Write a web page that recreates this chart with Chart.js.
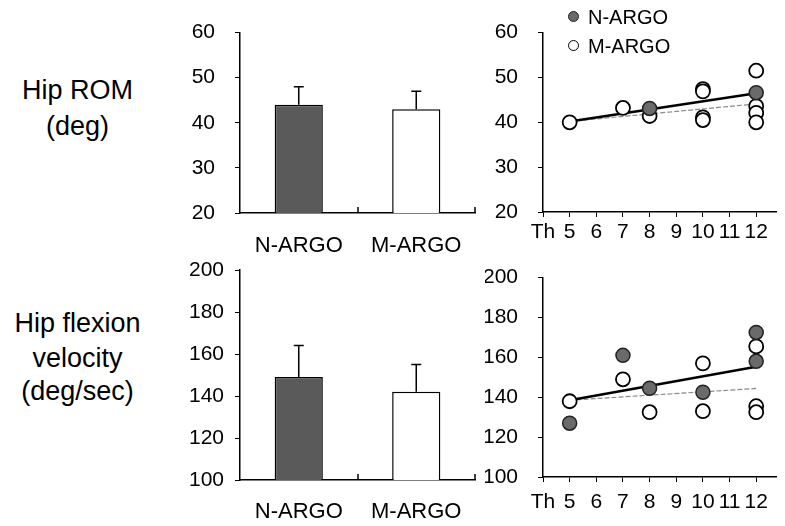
<!DOCTYPE html>
<html><head><meta charset="utf-8">
<script src="https://cdn.jsdelivr.net/npm/chart.js@4.4.1/dist/chart.umd.min.js"></script>
<style>
html,body{margin:0;padding:0;background:#fff;}
#wrap{position:relative;width:785px;height:526px;overflow:hidden;font-family:"Liberation Sans",Arial,sans-serif;color:#000;}
canvas{position:absolute;}
.lab{position:absolute;left:0;width:155px;font-size:27px;line-height:27px;text-align:center;white-space:nowrap;}
.leg{position:absolute;font-size:20px;line-height:20px;white-space:nowrap;}
.dot{position:absolute;width:9px;height:9px;border-radius:50%;}
</style></head><body>
<div id="wrap">
  <div class="lab" style="top:77px">Hip ROM</div>
  <div class="lab" style="top:113px">(deg)</div>
  <div class="lab" style="top:310px">Hip flexion</div>
  <div class="lab" style="top:345px">velocity</div>
  <div class="lab" style="top:378px">(deg/sec)</div>
  <canvas id="c1" width="315" height="260" style="left:170px;top:0px"></canvas>
  <canvas id="c2" width="315" height="281" style="left:170px;top:245px"></canvas>
  <canvas id="c3" width="300" height="260" style="left:485px;top:0px"></canvas>
  <canvas id="c4" width="300" height="281" style="left:485px;top:245px"></canvas>
  <div id="legend"></div>
</div>
<script>
// ---- data ----
const groups = ['N-ARGO', 'M-ARGO'];
const romMean = [44, 43];
const romErr = [4, 4];
const velMean = [149, 142];
const velErr = [15, 13];

const segTicks = [4, 5, 6, 7, 8, 9, 10, 11, 12];
const segLabels = ['Th', '5', '6', '7', '8', '9', '10', '11', '12'];

const romNx = [8, 12];
const romNy = [43.1, 46.6];
const romMx = [5, 7, 8, 10, 10, 10, 10, 12, 12, 12, 12];
const romMy = [40, 43.2, 41.4, 47.4, 46.9, 41.1, 40.5, 51.5, 43.6, 42.1, 40];
const romFitNx = [5, 12];
const romFitNy = [40.2, 46.5];
const romFitMx = [5, 12];
const romFitMy = [40.2, 44.1];

const velNx = [5, 7, 8, 10, 12, 12];
const velNy = [127, 161, 144.5, 142.5, 172.5, 158];
const velMx = [5, 7, 8, 10, 10, 12, 12, 12];
const velMy = [138, 149, 132.5, 157, 133, 165.5, 135.5, 132.5];
const velFitNx = [5, 12];
const velFitNy = [138.5, 155.3];
const velFitMx = [5, 12];
const velFitMy = [138.5, 144.4];

// ---- styles ----
const FAM = '"Liberation Sans", Arial, sans-serif';
const tickFont = {family: FAM, size: 21};
const catFont = {family: FAM, size: 22};
const INK = '#000';
const N_FILL = '#5a5a5a';
const P_FILL = '#6a6a6a';

const pts = (xs, ys) => xs.map((x, i) => ({x: x, y: ys[i]}));

const errorBars = {
  id: 'errorBars',
  afterDatasetsDraw(chart, args, opts) {
    const errs = opts.errors;
    if (!errs) return;
    const meta = chart.getDatasetMeta(0);
    const ys = chart.scales.y;
    const ctx = chart.ctx;
    const vals = chart.data.datasets[0].data;
    ctx.save();
    ctx.strokeStyle = INK;
    ctx.lineWidth = 1.5;
    meta.data.forEach((bar, i) => {
      const top = ys.getPixelForValue(vals[i] + errs[i]);
      ctx.beginPath();
      ctx.moveTo(bar.x, bar.y);
      ctx.lineTo(bar.x, top);
      ctx.moveTo(bar.x - 5, top);
      ctx.lineTo(bar.x + 5, top);
      ctx.stroke();
    });
    ctx.restore();
  }
};

const innerTicks = {
  id: 'innerTicks',
  afterDraw(chart) {
    const xs = chart.scales.x;
    const ctx = chart.ctx;
    const b = chart.chartArea.bottom;
    const n = chart.data.labels.length;
    ctx.save();
    ctx.strokeStyle = INK;
    ctx.lineWidth = 1.5;
    ctx.beginPath();
    for (let i = 1; i <= n; i++) {
      const px = Math.round(xs.getPixelForValue(i - 0.5));
      ctx.moveTo(px, b);
      ctx.lineTo(px, b - 6);
    }
    ctx.stroke();
    ctx.restore();
  }
};

function yAxis(min, max, step, w, pad) {
  return {
    min: min, max: max,
    ticks: {stepSize: step, color: INK, font: tickFont, padding: pad},
    grid: {drawOnChartArea: false, drawTicks: true, tickLength: 5, color: INK, lineWidth: 1},
    border: {display: true, color: INK, width: 1.5},
    afterFit: s => { s.width = w; }
  };
}

function barChart(id, vals, errs, min, max, step, padT, xH, xPad, yPad) {
  new Chart(document.getElementById(id), {
    type: 'bar',
    data: {
      labels: groups,
      datasets: [{
        data: vals,
        backgroundColor: [N_FILL, '#ffffff'],
        borderColor: INK,
        borderWidth: 1.5,
        barPercentage: 0.41,
        categoryPercentage: 1
      }]
    },
    options: {
      responsive: false, animation: false,
      layout: {padding: {left: 0, right: 10, top: padT, bottom: 0}},
      plugins: {legend: {display: false}, tooltip: {enabled: false}, errorBars: {errors: errs}},
      scales: {
        x: {
          grid: {display: false},
          border: {display: true, color: INK, width: 1.5},
          ticks: {color: INK, font: catFont, padding: xPad},
          afterFit: s => { s.height = xH; }
        },
        y: yAxis(min, max, step, 70, yPad)
      }
    },
    plugins: [errorBars, innerTicks]
  });
}

function scatterChart(id, nx, ny, mx, my, fnx, fny, fmx, fmy, min, max, step, padT, xH, xPad) {
  new Chart(document.getElementById(id), {
    type: 'scatter',
    data: {
      datasets: [
        {label: 'N-ARGO', data: pts(nx, ny), backgroundColor: P_FILL, borderColor: '#222', borderWidth: 1.5, pointRadius: 7},
        {label: 'M-ARGO', data: pts(mx, my), backgroundColor: '#fff', borderColor: INK, borderWidth: 1.8, pointRadius: 7},
        {label: 'N-ARGO fit', data: pts(fnx, fny), showLine: true, borderColor: INK, borderWidth: 2.5, pointRadius: 0},
        {label: 'M-ARGO fit', data: pts(fmx, fmy), showLine: true, borderColor: '#8a8a8a', borderWidth: 1.2, borderDash: [5, 2], pointRadius: 0}
      ]
    },
    options: {
      responsive: false, animation: false,
      layout: {padding: {left: 0, right: 2, top: padT, bottom: 0}},
      plugins: {legend: {display: false}, tooltip: {enabled: false}},
      scales: {
        x: {
          type: 'linear', min: 4, max: 12.75,
          afterBuildTicks: s => { s.ticks = segTicks.map(v => ({value: v})); },
          ticks: {color: INK, font: tickFont, padding: xPad, autoSkip: false, maxRotation: 0,
                  callback: v => segLabels[segTicks.indexOf(v)]},
          grid: {drawOnChartArea: false, drawTicks: true, tickLength: 5, color: INK, lineWidth: 1},
          border: {display: true, color: INK, width: 1.5},
          afterFit: s => { s.height = xH; }
        },
        y: yAxis(min, max, step, 58, 20)
      }
    }
  });
}

barChart('c1', romMean, romErr, 20, 60, 10, 18, 47, 12, 20);
barChart('c2', velMean, velErr, 100, 200, 20, 25, 46, 11, 11);
scatterChart('c3', romNx, romNy, romMx, romMy, romFitNx, romFitNy, romFitMx, romFitMy, 20, 60, 10, 17, 48, 3);
scatterChart('c4', velNx, velNy, velMx, velMy, velFitNx, velFitNy, velFitMx, velFitMy, 100, 200, 20, 24, 49, 8);

// legend for the right-hand panels
const legItems = [
  {label: groups[0], fill: P_FILL, stroke: '#222', y: 17},
  {label: groups[1], fill: '#fff', stroke: INK, y: 46}
];
const leg = document.getElementById('legend');
legItems.forEach(it => {
  const d = document.createElement('div');
  d.className = 'dot';
  d.style.left = '568px';
  d.style.top = (it.y - 6) + 'px';
  d.style.background = it.fill;
  d.style.border = '1.5px solid ' + it.stroke;
  leg.appendChild(d);
  const t = document.createElement('div');
  t.className = 'leg';
  t.style.left = '588px';
  t.style.top = (it.y - 10) + 'px';
  t.textContent = it.label;
  leg.appendChild(t);
});
</script>
</body></html>
